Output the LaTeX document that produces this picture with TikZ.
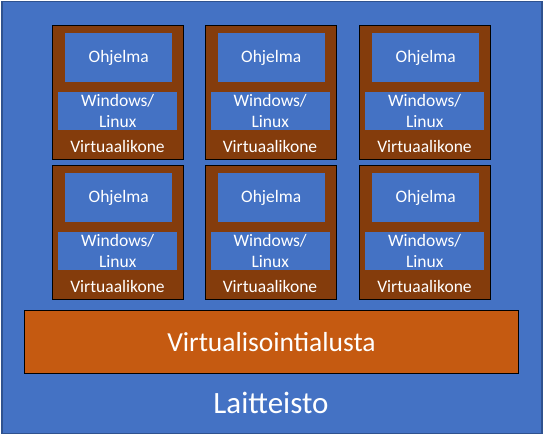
\documentclass[tikz,border=0pt]{standalone}
\usepackage{fontspec}
\setmainfont{Carlito}
\definecolor{hwblue}{HTML}{4472C4}
\definecolor{hwborder}{HTML}{2F528F}
\definecolor{vmbrown}{HTML}{843C0C}
\definecolor{virtorange}{HTML}{C55A11}
\begin{document}
\begin{tikzpicture}[x=1pt,y=-1pt,
  vmbox/.style={draw=black,line width=1pt,fill=vmbrown,minimum width=131pt,minimum height=134pt,inner sep=0pt,anchor=north west},
  appbox/.style={fill=hwblue,minimum width=107pt,minimum height=49pt,inner sep=0pt,anchor=north west,text=white,font=\fontsize{17.5}{21}\selectfont},
  osbox/.style={fill=hwblue,minimum width=119pt,minimum height=38pt,inner sep=0pt,anchor=north west,text=white,align=center,font=\fontsize{17.5}{21}\selectfont},
  vmlabel/.style={text=white,inner sep=0pt,font=\fontsize{17.5}{21}\selectfont}]
\useasboundingbox (0,0) rectangle (544,435);
\node[draw=hwborder,line width=1.5pt,fill=hwblue,minimum width=540pt,minimum height=432pt,inner sep=0pt,anchor=north west] (hw) at (1,1) {};
\foreach \c/\x in {1/52,2/204.5,3/359}{
  \foreach \r/\y in {1/25,2/165}{
    \node[vmbox] (vm\c\r) at (\x,\y) {};
    \node[appbox] (app\c\r) at (\x+13,\y+8) {Ohjelma};
    \node[osbox] (os\c\r) at (\x+6,\y+67) {Windows/\\Linux};
    \node[vmlabel] (lbl\c\r) at (\x+65.5,\y+121) {Virtuaalikone};
  }
}
\node[draw=black,line width=1pt,fill=virtorange,minimum width=494pt,minimum height=63pt,inner sep=0pt,anchor=north west,text=white,font=\fontsize{27.5}{33}\selectfont] (virt) at (24,310) {Virtualisointialusta};
\node[text=white,inner sep=0pt,font=\fontsize{31}{37}\selectfont] (hwlabel) at (271,403) {Laitteisto};
\end{tikzpicture}
\end{document}
